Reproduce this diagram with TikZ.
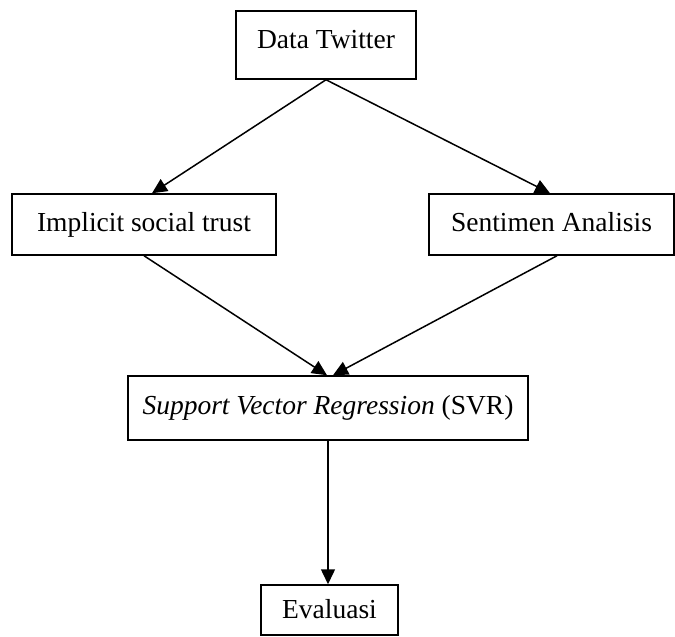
\documentclass[tikz,border=0pt]{standalone}
\usepackage{fontspec}
\setmainfont{Liberation Serif}
\usetikzlibrary{arrows.meta}
\begin{document}
\begin{tikzpicture}[x=1pt,y=-1pt,
  box/.style={draw=black,line width=1.5pt,fill=white,inner sep=0pt,
    font=\fontsize{27.5}{32}\selectfont,text height=19pt,text depth=6pt},
  conn/.style={line width=1.5pt,-{Triangle[length=15pt,width=14pt]}}]
\useasboundingbox (0,0) rectangle (675,637);
\node[box,minimum width=180pt,minimum height=68pt] (dt) at (326,45) {\raisebox{3pt}{Data Twitter}};
\node[box,minimum width=264pt,minimum height=61pt] (ist) at (144,224.5) {Implicit social trust};
\node[box,minimum width=245pt,minimum height=61pt] (sa) at (551.5,224.5) {Sentimen Analisis};
\node[box,minimum width=400pt,minimum height=64pt] (svr) at (328,408) {\textit{Support Vector Regression} (SVR)};
\node[box,minimum width=137pt,minimum height=50pt] (ev) at (329.5,610) {\raisebox{-2pt}{Evaluasi}};
\draw[conn] (dt.south) -- ([xshift=8pt]ist.north);
\draw[conn] (dt.south) -- ([xshift=-1.5pt]sa.north);
\draw[conn] (ist.south) -- ([xshift=-1pt]svr.north);
\draw[conn] ([xshift=5.5pt]sa.south) -- ([xshift=5pt]svr.north);
\draw[conn] (svr.south) -- (svr.south |- ev.north);
\end{tikzpicture}
\end{document}
